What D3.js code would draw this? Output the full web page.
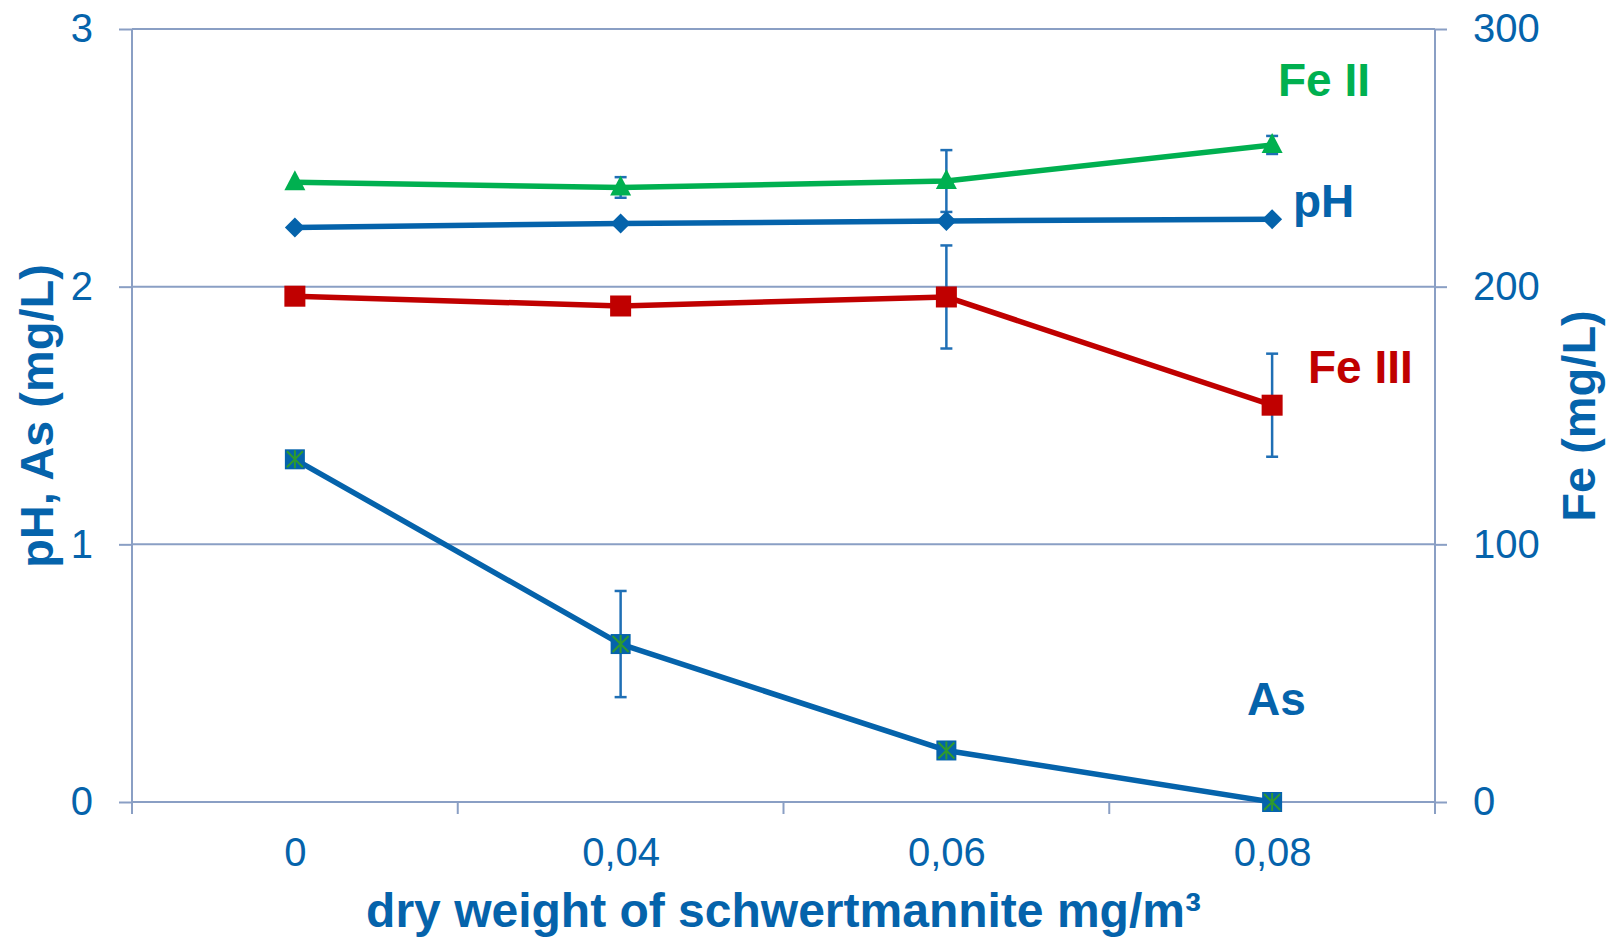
<!DOCTYPE html>
<html>
<head>
<meta charset="utf-8">
<script src="https://cdn.jsdelivr.net/npm/d3@7"></script>
<style>
  body { margin: 0; background: #fff; }
  text { font-family: "Liberation Sans", Arial, sans-serif; }
</style>
</head>
<body>
<div id="chart"></div>
<script>
const width = 1611;
const height = 939;

// data
const categories = ["0", "0,04", "0,06", "0,08"];
const pH = [2.23, 2.245, 2.255, 2.262];
const arsenic = [1.33, 0.613, 0.2, 0.0];
const arsenicErr = [0, 0.206, 0, 0];
const fe2 = [240.5, 238.5, 241, 255];
const fe2Err = [0, 4, 12, 3.5];
const fe3 = [196.3, 192.5, 196, 154];
const fe3Err = [0, 0, 20, 20];
const leftTicks = [0, 1, 2, 3];
const rightTicks = [0, 100, 200, 300];

const blue = "#0563ab";
const green = "#00b050";
const red = "#c00000";
const errBlue = "#1f6fb5";
const gridColor = "#8a9fc4";

const margin = { left: 132, right: 176, top: 29, bottom: 137 };

const svg = d3.select("#chart")
  .append("svg")
  .attr("width", width)
  .attr("height", height);

const x = d3.scalePoint()
  .domain(categories)
  .range([margin.left, width - margin.right])
  .padding(0.5);

const yL = d3.scaleLinear().domain([0, 3]).range([height - margin.bottom, margin.top]);
const yR = d3.scaleLinear().domain([0, 300]).range([height - margin.bottom, margin.top]);

const x0 = margin.left, x1 = width - margin.right;

// gridlines
svg.append("g")
  .selectAll("line")
  .data(leftTicks)
  .join("line")
  .attr("x1", x0)
  .attr("x2", x1)
  .attr("y1", d => yL(d))
  .attr("y2", d => yL(d))
  .attr("stroke", gridColor)
  .attr("stroke-width", 2);

// left + right axes
const axL = svg.append("g")
  .attr("transform", `translate(${x0},0)`)
  .call(d3.axisLeft(yL).tickValues(leftTicks).tickFormat(d3.format("d")).tickSize(13).tickPadding(26));

const axR = svg.append("g")
  .attr("transform", `translate(${x1},0)`)
  .call(d3.axisRight(yR).tickValues(rightTicks).tickFormat(d3.format("d")).tickSize(12).tickPadding(26));

[axL, axR].forEach(ax => {
  ax.select(".domain").remove();
  ax.selectAll(".tick line").attr("stroke", gridColor).attr("stroke-width", 2);
  ax.selectAll(".tick text")
    .attr("fill", blue)
    .style("font-size", "40px");
});

// vertical axis lines (run a bit below zero like the category ticks)
[x0, x1].forEach(px => {
  svg.append("line")
    .attr("x1", px).attr("x2", px)
    .attr("y1", yL(3)).attr("y2", yL(0) + 12)
    .attr("stroke", gridColor)
    .attr("stroke-width", 2);
});

// x axis category boundary ticks
const step = x.step();
const bounds = categories.map(c => x(c) - step / 2).concat([x(categories[categories.length - 1]) + step / 2]);
svg.append("g")
  .selectAll("line")
  .data(bounds)
  .join("line")
  .attr("x1", d => d)
  .attr("x2", d => d)
  .attr("y1", yL(0))
  .attr("y2", yL(0) + 12)
  .attr("stroke", gridColor)
  .attr("stroke-width", 2);

// x axis labels
const axB = svg.append("g")
  .attr("transform", `translate(0,${yL(0)})`)
  .call(d3.axisBottom(x).tickSize(0).tickPadding(36));
axB.select(".domain").remove();
axB.selectAll(".tick text")
  .attr("fill", blue)
  .style("font-size", "40px");

// axis titles
svg.append("text")
  .attr("transform", `translate(53,416) rotate(-90)`)
  .attr("text-anchor", "middle")
  .attr("fill", blue)
  .style("font-size", "47px")
  .style("font-weight", "bold")
  .text("pH, As (mg/L)");

svg.append("text")
  .attr("transform", `translate(1595,416) rotate(-90)`)
  .attr("text-anchor", "middle")
  .attr("fill", blue)
  .style("font-size", "47px")
  .style("font-weight", "bold")
  .text("Fe (mg/L)");

svg.append("text")
  .attr("x", (x0 + x1) / 2)
  .attr("y", 927)
  .attr("text-anchor", "middle")
  .attr("fill", blue)
  .style("font-size", "48px")
  .style("font-weight", "bold")
  .text("dry weight of schwertmannite mg/m³");

// series
const series = [
  { name: "Fe II", values: fe2, err: fe2Err, y: yR, color: green, marker: "triangle" },
  { name: "pH", values: pH, err: null, y: yL, color: blue, marker: "diamond" },
  { name: "Fe III", values: fe3, err: fe3Err, y: yR, color: red, marker: "square" },
  { name: "As", values: arsenic, err: arsenicErr, y: yL, color: blue, marker: "star" }
];

const line = (yScale) => d3.line()
  .x((d, i) => x(categories[i]))
  .y(d => yScale(d));

series.forEach(s => {
  svg.append("path")
    .datum(s.values)
    .attr("d", line(s.y))
    .attr("fill", "none")
    .attr("stroke", s.color)
    .attr("stroke-width", 5.5)
    .attr("stroke-linejoin", "round");
});

// error bars
series.filter(s => s.err).forEach(s => {
  const g = svg.append("g");
  s.values.forEach((v, i) => {
    const e = s.err[i];
    if (!e) return;
    const cx = x(categories[i]);
    const top = s.y(v + e), bot = s.y(v - e);
    g.append("line").attr("x1", cx).attr("x2", cx).attr("y1", top).attr("y2", bot);
    g.append("line").attr("x1", cx - 6).attr("x2", cx + 6).attr("y1", top).attr("y2", top);
    g.append("line").attr("x1", cx - 6).attr("x2", cx + 6).attr("y1", bot).attr("y2", bot);
  });
  g.selectAll("line").attr("stroke", errBlue).attr("stroke-width", 2.5);
});

// markers
series.forEach(s => {
  const g = svg.append("g");
  s.values.forEach((v, i) => {
    const cx = x(categories[i]), cy = s.y(v);
    if (s.marker === "triangle") {
      g.append("path")
        .attr("d", `M${cx},${cy - 12}L${cx + 10.5},${cy + 8}L${cx - 10.5},${cy + 8}Z`)
        .attr("fill", s.color);
    } else if (s.marker === "diamond") {
      g.append("path")
        .attr("d", `M${cx},${cy - 10}L${cx + 10},${cy}L${cx},${cy + 10}L${cx - 10},${cy}Z`)
        .attr("fill", s.color);
    } else if (s.marker === "square") {
      g.append("rect")
        .attr("x", cx - 10.5).attr("y", cy - 10.5)
        .attr("width", 21).attr("height", 21)
        .attr("fill", s.color);
    } else {
      g.append("rect")
        .attr("x", cx - 10).attr("y", cy - 10)
        .attr("width", 20).attr("height", 20)
        .attr("fill", s.color);
      g.append("path")
        .attr("d", `M${cx - 8},${cy - 8}L${cx + 8},${cy + 8}M${cx + 8},${cy - 8}L${cx - 8},${cy + 8}M${cx},${cy - 9}L${cx},${cy + 9}`)
        .attr("stroke", "#2e9a2e")
        .attr("stroke-width", 2);
    }
  });
});

// series labels
const labels = [
  { text: "Fe II", color: green, x: 1278, y: 96 },
  { text: "pH", color: blue, x: 1293, y: 217 },
  { text: "Fe III", color: red, x: 1308, y: 383 },
  { text: "As", color: blue, x: 1247, y: 715 }
];

svg.append("g")
  .selectAll("text")
  .data(labels)
  .join("text")
  .attr("x", d => d.x)
  .attr("y", d => d.y)
  .attr("fill", d => d.color)
  .style("font-size", "46px")
  .style("font-weight", "bold")
  .text(d => d.text);
</script>
</body>
</html>
